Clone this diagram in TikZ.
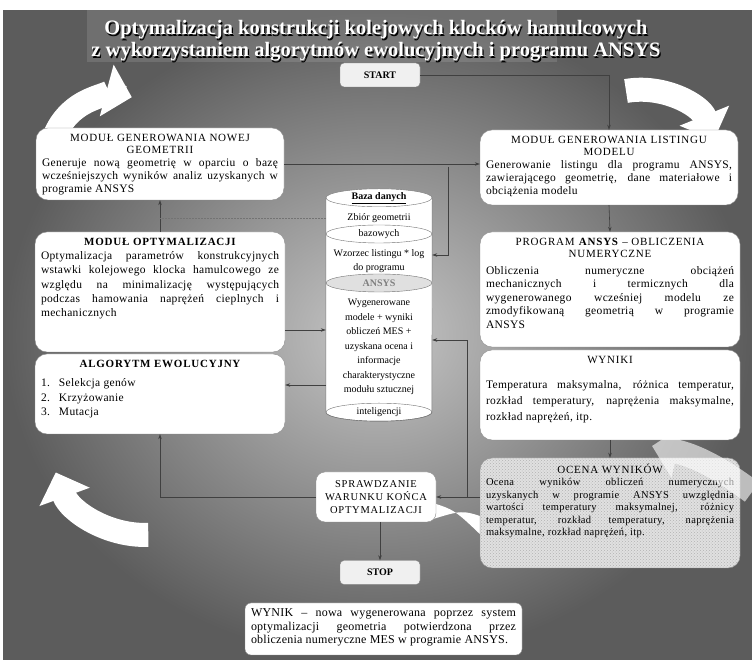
\documentclass[tikz,border=0pt]{standalone}
\usepackage{fontspec}
\setmainfont{Liberation Serif}
\usetikzlibrary{arrows.meta,shapes,positioning,patterns}
\newcommand{\boxtxt}[3]{\parbox[c][#2][t]{#1}{#3}}
\newcommand{\boxhead}[1]{{\centering #1\par}}
\newcommand{\capsfont}{\fontsize{11}{12.5}\selectfont\addfontfeature{LetterSpace=7}}
\newcommand{\bodyfont}[1]{\fontsize{11.5}{#1}\selectfont\addfontfeature{LetterSpace=3}}

\begin{document}
\begin{tikzpicture}[x=1pt,y=1pt]
	\tikzstyle{every node}+=[inner sep=0pt]
	\tikzstyle{mod}=[draw=black!45, fill=white, rounded corners=12pt, inner sep=6pt]
	\tikzstyle{term}=[draw=black!50, fill=black!6, rounded corners=4pt, minimum width=80pt, minimum height=24pt, font=\fontsize{10}{12}\selectfont\bfseries]
	\tikzstyle{conn}=[draw=black!75, line width=0.6pt, -{Stealth[length=5pt,width=3.5pt]}]
	\tikzstyle{faint}=[draw=black!55, line width=0.5pt, densely dotted]
	\tikzstyle{bigarrow}=[white, line width=24pt, -{Triangle[length=26pt,width=52pt]}]
	\tikzstyle{dbtext}=[font=\fontsize{10}{14.5}\selectfont, align=center]
	\useasboundingbox (0,0) rectangle (752,660);
	\shade[inner color=black!22, outer color=black!64] (3,0) rectangle (752,649);
	\fill[white, opacity=0.12] (87,598) rectangle (557,650);
	\node[font=\fontsize{20.5}{22}\selectfont\bfseries, text=black, align=center] (titleshadow) at (377.2,617.8) {Optymalizacja konstrukcji kolejowych klocków hamulcowych\\z wykorzystaniem algorytmów ewolucyjnych i programu ANSYS};
	\node[font=\fontsize{20.5}{22}\selectfont\bfseries, text=white, align=center] (title) at (376,619) {Optymalizacja konstrukcji kolejowych klocków hamulcowych\\z wykorzystaniem algorytmów ewolucyjnych i programu ANSYS};
	\draw[bigarrow] (50,500) arc[start angle=180, end angle=75, radius=65];
	\draw[bigarrow] (626,569) arc[start angle=100, end angle=22, radius=80];
	\draw[bigarrow] (148.3,125.1) arc[start angle=272, end angle=200, radius=95];
	\fill[white] (430,158) .. controls (455,150) .. (486,120) -- (486,142) .. controls (462,150) .. (430,140) -- cycle;
	\node[term] (start) at (380,585) {START};
	\node[mod] (geo) at (160,496) {\boxtxt{236pt}{60pt}{\boxhead{\capsfont MODUŁ GENEROWANIA NOWEJ\\GEOMETRII}\bodyfont{13} Generuje nową geometrię w oparciu o bazę\linebreak wcześniejszych wyników analiz uzyskanych w\linebreak programie ANSYS}};
	\node[mod] (listing) at (609,492.5) {\boxtxt{246pt}{63pt}{\boxhead{\capsfont MODUŁ GENEROWANIA LISTINGU\\MODELU}\bodyfont{13} Generowanie listingu dla programu ANSYS,\linebreak zawierającego geometrię, dane materiałowe i\linebreak obciążenia modelu}};
	\node[mod] (optym) at (160,368) {\boxtxt{238pt}{108pt}{\boxhead{\bfseries\capsfont MODUŁ OPTYMALIZACJI}\bodyfont{14.3} Optymalizacja parametrów konstrukcyjnych\linebreak wstawki kolejowego klocka hamulcowego ze\linebreak względu na minimalizację występujących\linebreak podczas hamowania naprężeń cieplnych i\linebreak mechanicznych}};
	\node[mod] (algorytm) at (160,266) {\boxtxt{238pt}{68pt}{\boxhead{\bfseries\capsfont ALGORYTM EWOLUCYJNY}\vspace{5pt}\bodyfont{14.5} 1.\hspace{9pt}Selekcja genów\\2.\hspace{9pt}Krzyżowanie\\3.\hspace{9pt}Mutacja}};
	\node[mod] (program) at (610,370.5) {\boxtxt{248pt}{103pt}{\boxhead{\capsfont PROGRAM \textbf{ANSYS} – OBLICZENIA\\NUMERYCZNE}\vspace{3pt}\bodyfont{13.5} Obliczenia numeryczne obciążeń\linebreak mechanicznych i termicznych dla\linebreak wygenerowanego wcześniej modelu ze\linebreak zmodyfikowaną geometrią w programie\linebreak ANSYS}};
	\node[mod] (wyniki) at (610,265) {\boxtxt{248pt}{78pt}{\boxhead{\capsfont WYNIKI}\vspace{9pt}\bodyfont{16} Temperatura maksymalna, różnica temperatur,\linebreak rozkład temperatury, naprężenia maksymalne,\linebreak rozkład naprężeń, itp.}};
	\node[mod, fill=black!12, postaction={pattern=crosshatch dots, pattern color=black!30}] (ocena) at (610,147) {\boxtxt{248pt}{98pt}{\boxhead{\capsfont OCENA WYNIKÓW}\fontsize{10.5}{12.5}\selectfont\addfontfeature{LetterSpace=3} Ocena wyników obliczeń numerycznych\linebreak uzyskanych w programie ANSYS uwzględnia\linebreak wartości temperatury maksymalnej, różnicy\linebreak temperatur, rozkład temperatury, naprężenia\linebreak maksymalne, rozkład naprężeń, itp.}};
	\begin{scope}[transparency group, opacity=0.6]
		\draw[bigarrow] (752,168) to[bend right=12] (652,214);
	\end{scope}
	\node[mod, rounded corners=9pt, align=center, minimum width=120pt, minimum height=50pt, inner sep=3pt, font=\fontsize{10.5}{13}\selectfont\addfontfeature{LetterSpace=7}] (sprawdz) at (376,163) {SPRAWDZANIE\\WARUNKU KOŃCA\\OPTYMALIZACJI};
	\node[term] (stop) at (380,87.5) {STOP};
	\node[mod, rounded corners=6pt] (wynik) at (383.5,31) {\boxtxt{265pt}{40pt}{\fontsize{12}{13.5}\selectfont\addfontfeature{LetterSpace=2} WYNIK – nowa wygenerowana poprzez system\linebreak optymalizacji geometria potwierdzona przez\linebreak obliczenia numeryczne MES w programie ANSYS.}};
	\node[minimum width=106pt, minimum height=214pt] (db) at (379,355) {};
	\draw[black!55, fill=white] (db.north west) -- (db.south west) arc[start angle=180, end angle=360, x radius=53pt, y radius=9pt] -- (db.north east) -- cycle;
	\draw[black!55, fill=white] (db.north) ellipse[x radius=53pt, y radius=9pt];
	\draw[black!55, fill=white] (379,426) ellipse[x radius=53pt, y radius=9pt];
	\draw[black!55, fill=black!12] (379,377) ellipse[x radius=53pt, y radius=9pt];
	\draw[black!55] (db.south) ellipse[x radius=53pt, y radius=9pt];
	\node[dbtext, font=\fontsize{10}{12}\selectfont\bfseries] (dbname) at (db.north) {\underline{Baza danych}};
	\node[dbtext] (dbgeo) at (379,442) {Zbiór geometrii};
	\node[dbtext] (dbgeob) at (379,426) {bazowych};
	\node[dbtext] (dblist) at (379,399) {Wzorzec listingu * log\\do programu};
	\node[dbtext, text=black!50, font=\fontsize{10}{12}\selectfont\bfseries] (dbansys) at (379,377) {ANSYS};
	\node[dbtext] (dbres) at (379,313) {Wygenerowane\\modele + wyniki\\obliczeń MES +\\uzyskana ocena i\\informacje\\charakterystyczne\\modułu sztucznej};
	\node[dbtext] (dbend) at (db.south) {inteligencji};
	\coordinate (gj) at (160,442);
	\coordinate (lj) at (448,493);
	\coordinate (oj) at (467,163);
	\draw[conn] (geo.east) -- (geo.east -| listing.west);
	\draw[conn] (start.east) -| (listing.north);
	\draw[conn] (listing.south) -- (program.north);
	\draw[conn] (wyniki.south) -- (ocena.north);
	\draw[conn] (ocena.west |- sprawdz.east) -- (sprawdz.east);
	\draw[conn] (stop.north |- sprawdz.south) -- (stop.north);
	\draw[conn] (sprawdz.west) -| (algorytm.south);
	\draw[conn] (optym.north) -- (geo.south);
	\draw[conn] (optym.east |- 0,330) -- (db.west |- 0,330);
	\draw[conn] (db.west |- 0,275) -- (algorytm.east |- 0,275);
	\draw[faint] (db.west |- gj) -- (gj);
	\draw[conn] (lj) |- (db.east |- 0,405);
	\draw[conn] (oj) |- (db.east |- 0,320);
\end{tikzpicture}
\end{document}
